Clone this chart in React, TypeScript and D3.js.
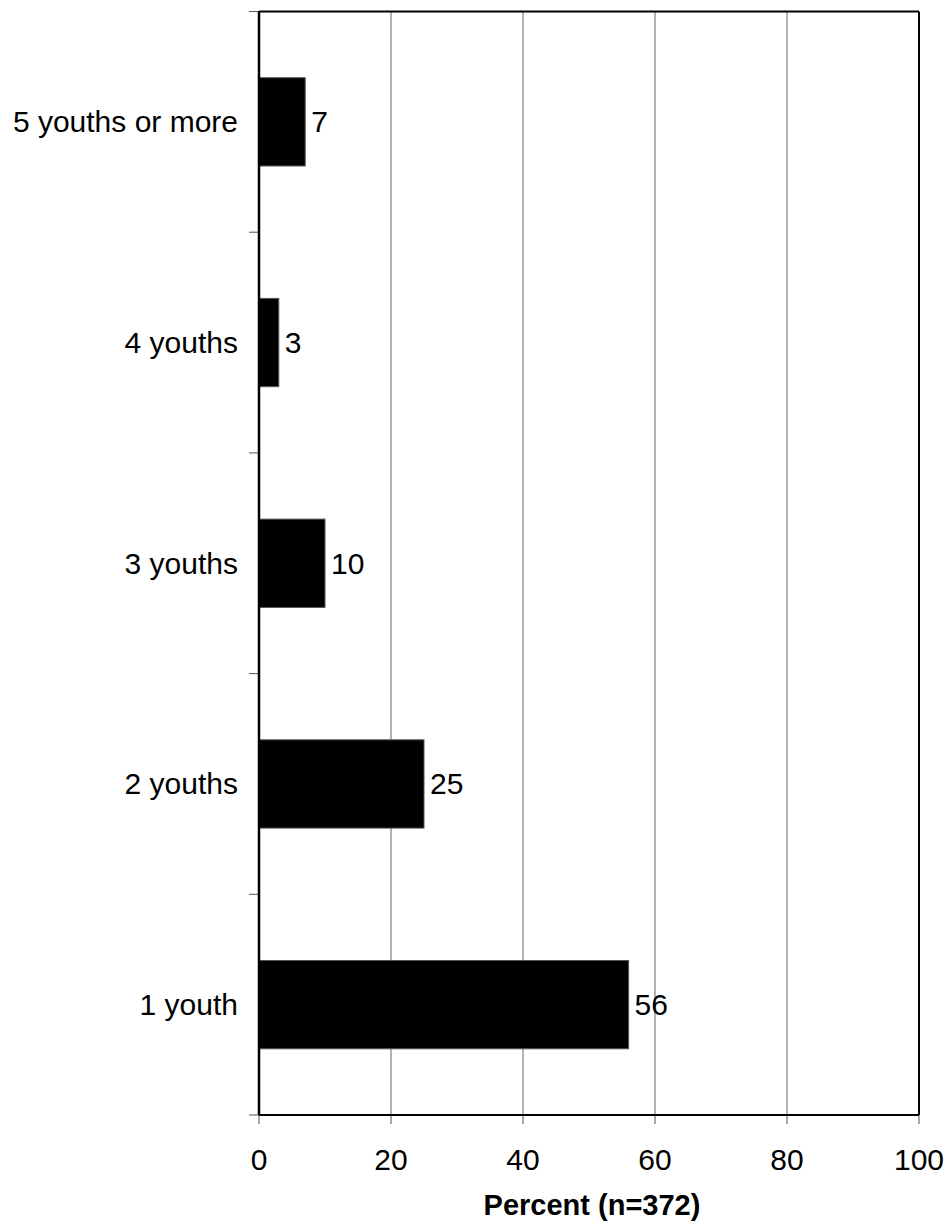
import React from "react";
import * as d3 from "d3";

const categories = ["5 youths or more", "4 youths", "3 youths", "2 youths", "1 youth"];
const values = [7, 3, 10, 25, 56];
const xTicks = [0, 20, 40, 60, 80, 100];
const axisTitle = "Percent (n=372)";

export default function App() {
  const W = 948, H = 1226;
  const left = 259, right = 919, top = 11.5, bottom = 1115;
  const x = d3.scaleLinear().domain([0, 100]).range([left, right]);
  const y = d3.scaleBand<string>().domain(categories).range([top, bottom]).paddingInner(0.6).paddingOuter(0.3);
  const yb = d3.scaleBand<string>().domain(categories).range([top, bottom]);
  const font = "'Liberation Sans', Arial, sans-serif";
  const boundaries = categories.map((c) => yb(c)!).concat([bottom]);
  return (
    <svg width={W} height={H} style={{ position: "absolute", left: 0, top: 0, background: "#fff" }}>
      {xTicks.filter((t) => t > 0 && t < 100).map((t) => (
        <line key={"g" + t} x1={x(t)} x2={x(t)} y1={top} y2={bottom} stroke="#666" strokeWidth={1} />
      ))}
      {xTicks.map((t) => (
        <line key={"xt" + t} x1={x(t)} x2={x(t)} y1={bottom} y2={bottom + 9} stroke="#555" strokeWidth={1} />
      ))}
      {boundaries.map((b, i) => (
        <line key={"yt" + i} x1={left - 10} x2={left} y1={b} y2={b} stroke="#555" strokeWidth={1} />
      ))}
      {categories.map((c, i) => (
        <rect key={"b" + c} x={x(0)} y={y(c)} width={x(values[i]) - x(0)} height={y.bandwidth()} fill="#000" stroke="#555" strokeWidth={1} />
      ))}
      <line x1={left} x2={right} y1={top} y2={top} stroke="#000" strokeWidth={2} />
      <line x1={right} x2={right} y1={top} y2={bottom} stroke="#000" strokeWidth={2} />
      <line x1={left} x2={right} y1={bottom} y2={bottom} stroke="#000" strokeWidth={2} />
      <line x1={left} x2={left} y1={top} y2={bottom} stroke="#000" strokeWidth={2.5} />
      {categories.map((c, i) => (
        <text key={"v" + c} x={x(values[i]) + 6} y={y(c)! + y.bandwidth() / 2} dy="0.35em" fontFamily={font} fontSize={30} fill="#000">
          {values[i]}
        </text>
      ))}
      {categories.map((c) => (
        <text key={"l" + c} x={238} y={yb(c)! + yb.bandwidth() / 2} dy="0.35em" textAnchor="end" fontFamily={font} fontSize={30} fill="#000">
          {c}
        </text>
      ))}
      {xTicks.map((t) => (
        <text key={"xl" + t} x={x(t)} y={1170} textAnchor="middle" fontFamily={font} fontSize={30} fill="#000">
          {t}
        </text>
      ))}
      <text x={(left + right) / 2 + 3} y={1215} textAnchor="middle" fontFamily={font} fontSize={29} fontWeight="bold" fill="#000">
        {axisTitle}
      </text>
    </svg>
  );
}
